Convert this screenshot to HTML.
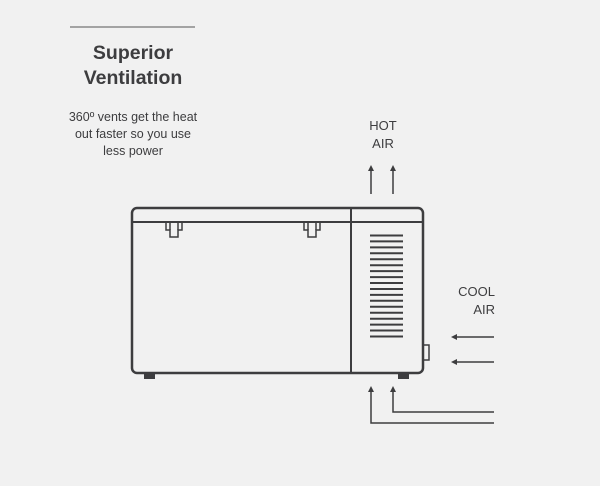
<!DOCTYPE html>
<html><head><style>
html,body{margin:0;padding:0;background:#f1f1f1;}
svg{display:block}
text{font-family:"Liberation Sans",sans-serif;fill:#3d3d3f}
</style></head><body>
<svg width="600" height="486" viewBox="0 0 600 486">
<line x1="70" y1="27" x2="195" y2="27" stroke="#555" stroke-width="1"/>
<text x="133" y="59" font-size="19.5" font-weight="bold" text-anchor="middle">Superior</text>
<text x="133" y="84" font-size="19.5" font-weight="bold" text-anchor="middle">Ventilation</text>
<text x="133" y="121" font-size="12.5" text-anchor="middle">360º vents get the heat</text>
<text x="133" y="138" font-size="12.5" text-anchor="middle">out faster so you use</text>
<text x="133" y="155" font-size="12.5" text-anchor="middle">less power</text>
<text x="383" y="130" font-size="13" text-anchor="middle">HOT</text>
<text x="383" y="148" font-size="13" text-anchor="middle">AIR</text>
<text x="495" y="296" font-size="13" text-anchor="end">COOL</text>
<text x="495" y="314" font-size="13" text-anchor="end">AIR</text>
<g stroke="#3d3d3f" fill="none">
<rect x="132" y="208" width="291" height="165" rx="5" stroke-width="2.5"/>
<line x1="132" y1="222" x2="423" y2="222" stroke-width="2"/>
<line x1="351" y1="208" x2="351" y2="373" stroke-width="2"/>
<path d="M166 222 V230 H170 V237 H178 V230 H182 V222" stroke-width="1.5"/>
<path d="M304 222 V230 H308 V237 H316 V230 H320 V222" stroke-width="1.5"/>
<path d="M170 222 V230 M178 222 V230 M308 222 V230 M316 222 V230" stroke-width="1.5"/>
<rect x="423" y="345" width="6" height="15" stroke-width="1.5"/>
<g stroke-width="2">
<line x1="370" y1="235.5" x2="403" y2="235.5"/><line x1="370" y1="241.4" x2="403" y2="241.4"/><line x1="370" y1="247.4" x2="403" y2="247.4"/><line x1="370" y1="253.3" x2="403" y2="253.3"/><line x1="370" y1="259.3" x2="403" y2="259.3"/><line x1="370" y1="265.2" x2="403" y2="265.2"/><line x1="370" y1="271.1" x2="403" y2="271.1"/><line x1="370" y1="277.1" x2="403" y2="277.1"/><line x1="370" y1="283" x2="403" y2="283"/><line x1="370" y1="289" x2="403" y2="289"/><line x1="370" y1="294.9" x2="403" y2="294.9"/><line x1="370" y1="300.8" x2="403" y2="300.8"/><line x1="370" y1="306.8" x2="403" y2="306.8"/><line x1="370" y1="312.7" x2="403" y2="312.7"/><line x1="370" y1="318.7" x2="403" y2="318.7"/><line x1="370" y1="324.6" x2="403" y2="324.6"/><line x1="370" y1="330.5" x2="403" y2="330.5"/><line x1="370" y1="336.5" x2="403" y2="336.5"/>
</g>
<g stroke-width="1.5">
<line x1="371" y1="169" x2="371" y2="194"/><line x1="393" y1="169" x2="393" y2="194"/>
<line x1="455" y1="337" x2="494" y2="337"/><line x1="455" y1="362" x2="494" y2="362"/>
<path d="M371 390 V423 H494"/><path d="M393 390 V412 H494"/>
</g>
</g>
<g fill="#3d3d3f">
<rect x="144" y="373" width="11" height="6"/><rect x="398" y="373" width="11" height="6"/>
<path d="M371 165 l-3 6 h6z"/><path d="M393 165 l-3 6 h6z"/>
<path d="M451 337 l6 -3 v6z"/><path d="M451 362 l6 -3 v6z"/>
<path d="M371 386 l-3 6 h6z"/><path d="M393 386 l-3 6 h6z"/>
</g>
</svg>
</body></html>
